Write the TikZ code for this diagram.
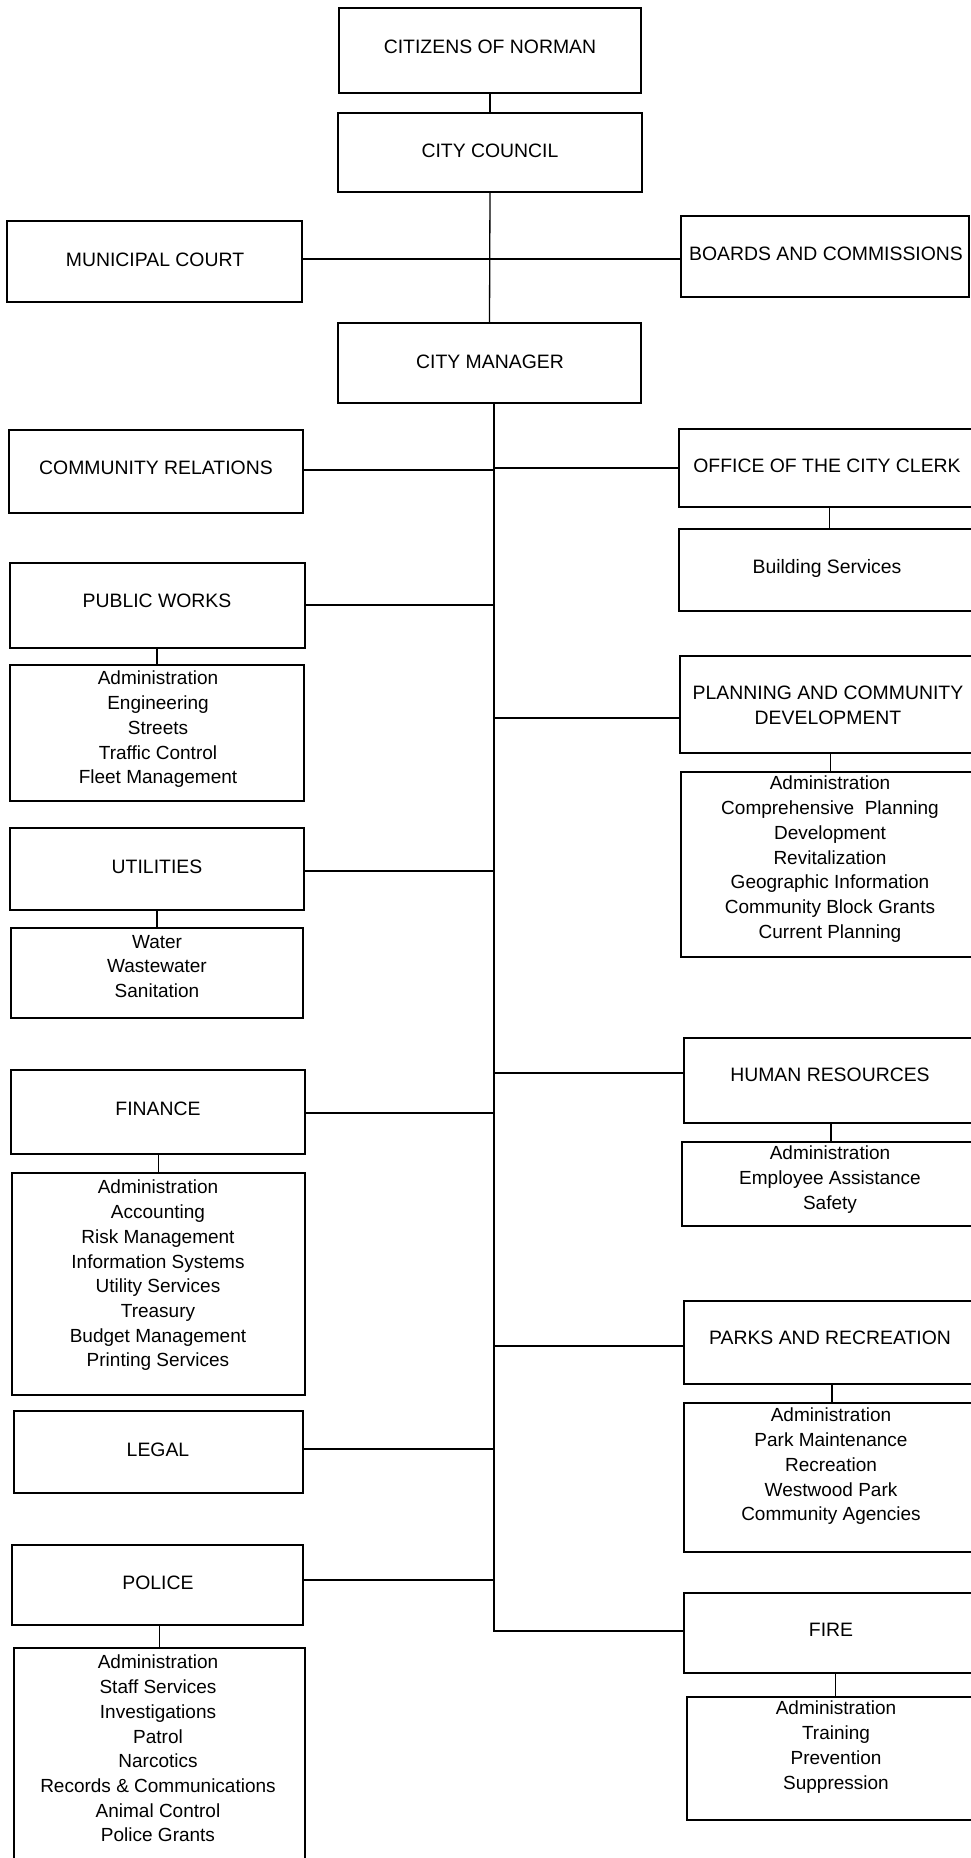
\documentclass[tikz,border=0pt]{standalone}
\usepackage{fontspec}
\setmainfont{Liberation Sans}
\usetikzlibrary{fit}
\begin{document}
\begin{tikzpicture}[x=1pt,y=-1pt,
  box/.style={draw=black,line width=1.6pt,inner sep=0pt},
  ttl/.style={anchor=base,inner sep=0pt,font=\fontsize{19.4}{24}\selectfont,align=center},
  lst/.style={anchor=north,inner sep=0pt,font=\fontsize{19}{24.7}\selectfont,align=center},
  conn/.style={draw=black,line width=1.3pt}]
\useasboundingbox (0,0) rectangle (971,1858);
\clip (0,0) rectangle (971,1858);
% boxes
\node[box,fit={(339,8)(641,93)}] (cit) {};
\node[box,fit={(338,113)(642,192)}] (cc) {};
\node[box,fit={(7,221)(302,302)}] (mc) {};
\node[box,fit={(681,216)(969,297)}] (bc) {};
\node[box,fit={(338,323)(641,403)}] (cm) {};
\node[box,fit={(9,430)(303,513)}] (cr) {};
\node[box,fit={(679,429)(980,507)}] (occ) {};
\node[box,fit={(679,529)(980,611)}] (bs) {};
\node[box,fit={(10,563)(305,648)}] (pw) {};
\node[box,fit={(10,665)(304,801)}] (pwl) {};
\node[box,fit={(680,656)(980,753)}] (pcd) {};
\node[box,fit={(681,772)(980,957)}] (pcdl) {};
\node[box,fit={(10,828)(304,910)}] (ut) {};
\node[box,fit={(11,928)(303,1018)}] (utl) {};
\node[box,fit={(684,1038)(980,1123)}] (hr) {};
\node[box,fit={(682,1142)(980,1226)}] (hrl) {};
\node[box,fit={(11,1070)(305,1154)}] (fin) {};
\node[box,fit={(12,1173)(305,1395)}] (finl) {};
\node[box,fit={(684,1301)(980,1384)}] (pr) {};
\node[box,fit={(684,1403)(980,1552)}] (prl) {};
\node[box,fit={(14,1411)(303,1493)}] (lg) {};
\node[box,fit={(12,1545)(303,1625)}] (po) {};
\node[box,fit={(14,1648)(305,1900)}] (pol) {};
\node[box,fit={(684,1593)(980,1673)}] (fi) {};
\node[box,fit={(687,1697)(984,1820)}] (fil) {};
% titles
\node[ttl] (citT) at (490,53) {CITIZENS OF NORMAN};
\node[ttl] (ccT) at (490,157) {CITY COUNCIL};
\node[ttl] (mcT) at (155,266) {MUNICIPAL COURT};
\node[ttl] (bcT) at (826,260) {BOARDS AND COMMISSIONS};
\node[ttl] (cmT) at (490,368) {CITY MANAGER};
\node[ttl] (crT) at (156,474) {COMMUNITY RELATIONS};
\node[ttl] (occT) at (827,472) {OFFICE OF THE CITY CLERK};
\node[ttl] (bsT) at (827,573) {Building Services};
\node[ttl] (pwT) at (157,607) {PUBLIC WORKS};
\node[ttl] (pcdT) at (828,724) {PLANNING AND COMMUNITY\\[1pt]DEVELOPMENT};
\node[ttl] (utT) at (157,873) {UTILITIES};
\node[ttl] (hrT) at (830,1081) {HUMAN RESOURCES};
\node[ttl] (finT) at (158,1115) {FINANCE};
\node[ttl] (prT) at (830,1344) {PARKS AND RECREATION};
\node[ttl] (lgT) at (158,1456) {LEGAL};
\node[ttl] (poT) at (158,1589) {POLICE};
\node[ttl] (fiT) at (831,1636) {FIRE};
% lists
\node[lst] (pwL) at (158,671) {Administration\\Engineering\\Streets\\Traffic Control\\Fleet Management};
\node[lst] (pcdL) at (830,776) {Administration\\Comprehensive~ Planning\\Development\\Revitalization\\Geographic Information\\Community Block Grants\\Current Planning};
\node[lst] (utL) at (157,935) {Water\\Wastewater\\Sanitation};
\node[lst] (hrL) at (830,1146) {Administration\\Employee Assistance\\Safety};
\node[lst] (finL) at (158,1180) {Administration\\Accounting\\Risk Management\\Information Systems\\Utility Services\\Treasury\\Budget Management\\Printing Services};
\node[lst] (prL) at (831,1408) {Administration\\Park Maintenance\\Recreation\\Westwood Park\\Community Agencies};
\node[lst] (polL) at (158,1655) {Administration\\Staff Services\\Investigations\\Patrol\\Narcotics\\Records \& Communications\\Animal Control\\Police Grants};
\node[lst] (filL) at (836,1701) {Administration\\Training\\Prevention\\Suppression};
% spine coordinates
\coordinate (jcourt) at (491,259);
\coordinate (jtop) at (494,403);
\coordinate (jcr) at (494,470);
\coordinate (jocc) at (494,468);
\coordinate (jpw) at (494,605);
\coordinate (jpcd) at (494,718);
\coordinate (jut) at (494,871);
\coordinate (jhr) at (494,1073);
\coordinate (jfin) at (494,1113);
\coordinate (jpr) at (494,1346);
\coordinate (jlg) at (494,1449);
\coordinate (jpo) at (494,1580);
\coordinate (jfi) at (494,1631);
% connectors
\draw[conn] (cit.south) -- (cc.north);
\draw[conn] (cc.south) -- (cm.north);
\draw[conn] (mc.east |- jcourt) -- (bc.west |- jcourt);
\draw[conn] (jtop) -- (jfi) -- (fi.west |- jfi);
\draw[conn] (cr.east |- jcr) -- (jcr);
\draw[conn] (jocc) -- (occ.west |- jocc);
\draw[conn] (pw.east |- jpw) -- (jpw);
\draw[conn] (jpcd) -- (pcd.west |- jpcd);
\draw[conn] (ut.east |- jut) -- (jut);
\draw[conn] (jhr) -- (hr.west |- jhr);
\draw[conn] (fin.east |- jfin) -- (jfin);
\draw[conn] (jpr) -- (pr.west |- jpr);
\draw[conn] (lg.east |- jlg) -- (jlg);
\draw[conn] (po.east |- jpo) -- (jpo);
% sub connectors (vertical, at the child box's centre)
\draw[conn] (bs.north |- occ.south) -- (bs.north);
\draw[conn] (pwl.north |- pw.south) -- (pwl.north);
\draw[conn] (pcdl.north |- pcd.south) -- (pcdl.north);
\draw[conn] (utl.north |- ut.south) -- (utl.north);
\draw[conn] (hrl.north |- hr.south) -- (hrl.north);
\draw[conn] (finl.north |- fin.south) -- (finl.north);
\draw[conn] (prl.north |- pr.south) -- (prl.north);
\draw[conn] (pol.north |- po.south) -- (pol.north);
\draw[conn] (fil.north |- fi.south) -- (fil.north);
\end{tikzpicture}
\end{document}
